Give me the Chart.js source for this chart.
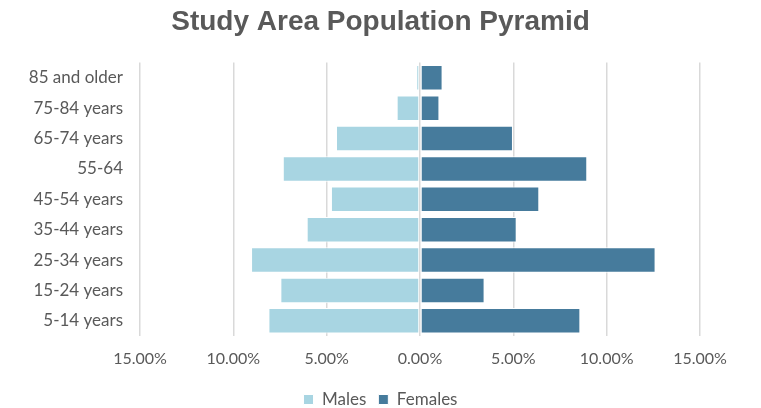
<!DOCTYPE html>
<html>
<head>
<meta charset="utf-8">
<script src="https://cdn.jsdelivr.net/npm/chart.js@4"></script>
<style>
  html, body { margin: 0; padding: 0; background: #fff; }
  #wrap { width: 761px; height: 408px; }
</style>
</head>
<body>
<div id="wrap"><canvas id="pyramid"></canvas></div>
<script>
// age groups, top of chart first
const ageGroups = ['85 and older', '75-84 years', '65-74 years', '55-64', '45-54 years',
  '35-44 years', '25-34 years', '15-24 years', '5-14 years'];
// share of population, percent
const males = [0.2, 1.25, 4.5, 7.35, 4.77, 6.07, 9.05, 7.48, 8.12];
const females = [1.21, 1.04, 4.98, 8.96, 6.39, 5.18, 12.62, 3.46, 8.59];
const xTicks = [-15, -10, -5, 0, 5, 10, 15];

const grey = '#595959';
const font = 'Lato, "Open Sans", sans-serif';

const ctx = document.getElementById('pyramid').getContext('2d');
new Chart(ctx, {
  type: 'bar',
  data: {
    labels: ageGroups,
    datasets: [
      {
        label: 'Males',
        data: males.map(v => -v),
        backgroundColor: '#a8d5e2',
        borderColor: '#ffffff',
        borderWidth: 1,
        borderSkipped: false,
        barPercentage: 0.84,
        categoryPercentage: 1
      },
      {
        label: 'Females',
        data: females,
        backgroundColor: '#467b9c',
        borderColor: '#ffffff',
        borderWidth: 1,
        borderSkipped: false,
        barPercentage: 0.84,
        categoryPercentage: 1
      }
    ]
  },
  options: {
    indexAxis: 'y',
    responsive: true,
    maintainAspectRatio: false,
    animation: false,
    layout: { padding: { left: 0, right: 0, top: 0, bottom: -10 } },
    scales: {
      x: {
        stacked: true,
        min: -15,
        max: 15,
        afterBuildTicks: s => { s.ticks = xTicks.map(v => ({ value: v })); },
        afterFit: s => { s.height = 43; },
        border: { display: false },
        grid: { color: '#d9d9d9', lineWidth: 1.5, drawTicks: false },
        ticks: {
          color: grey,
          font: { family: font, size: 16 },
          padding: 13,
          maxRotation: 0,
          callback: v => Math.abs(v).toFixed(2) + '%'
        }
      },
      y: {
        stacked: true,
        afterFit: s => { s.width = 140; },
        border: { display: false },
        grid: { display: false, drawTicks: false },
        ticks: { color: grey, font: { family: font, size: 17 }, padding: 17 }
      },
      // empty right margin so the title and legend centre on the canvas
      yRight: {
        position: 'right',
        afterFit: s => { s.width = 61; },
        border: { display: false },
        grid: { display: false, drawTicks: false },
        ticks: { display: false }
      }
    },
    plugins: {
      title: {
        display: true,
        text: 'Study Area Population Pyramid',
        color: grey,
        font: { family: '"Liberation Sans", Arial, sans-serif', size: 28, weight: 'bold' },
        padding: { top: 5, bottom: 24 }
      },
      legend: {
        position: 'bottom',
        labels: {
          color: grey,
          font: { family: font, size: 17 },
          boxWidth: 10,
          boxHeight: 10,
          padding: 12
        }
      },
      tooltip: { enabled: false }
    }
  }
});
</script>
</body>
</html>
